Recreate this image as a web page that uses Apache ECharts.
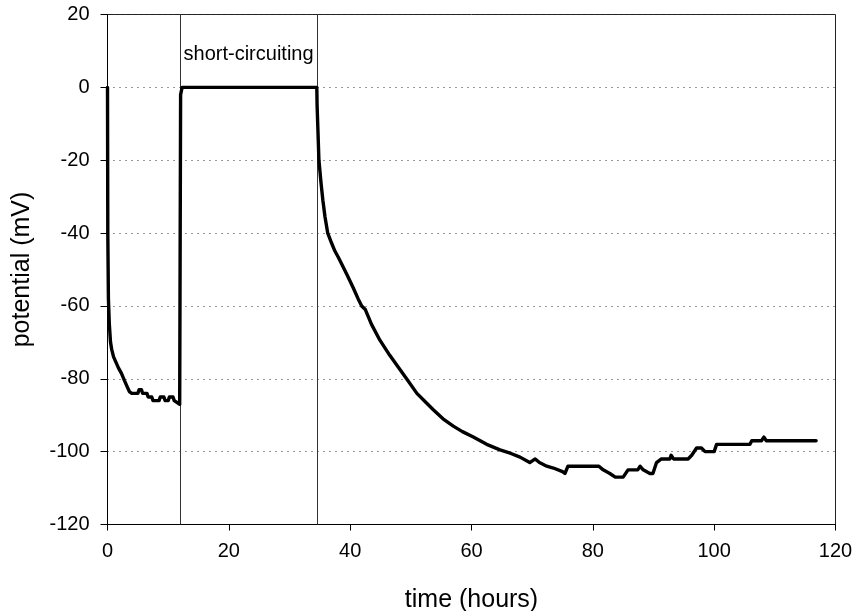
<!DOCTYPE html>
<html>
<head>
<meta charset="utf-8">
<script src="https://cdn.jsdelivr.net/npm/echarts@6/dist/echarts.min.js"></script>
<style>
html,body{margin:0;padding:0;background:#fff;}
#chart{width:855px;height:611px;}
</style>
</head>
<body>
<div id="chart"></div>
<script>
// time (hours)
var timeHours = [
  0, 0.05, 0.15, 0.3, 0.5, 0.7, 1.0, 1.4, 1.8, 2.3, 2.8, 3.2, 3.6, 4.0,
  5.0, 5.2, 5.6, 5.8, 6.5, 6.7, 7.3, 7.5, 8.5, 8.7, 9.3, 9.5, 10.0, 10.2,
  10.8, 11.0, 11.9, 12.0, 12.05, 12.3,
  34.5, 34.55, 34.7, 34.85, 35.2, 35.5, 35.85, 36.3, 36.95, 37.5, 38.0, 38.6,
  39.5, 40.5, 41.3, 41.9, 42.5, 43.5, 44.9, 46.5, 48.0, 49.3, 51.0, 52.5,
  53.7, 55.3, 57.0, 58.5, 60.3, 62.5, 64.7, 66.5, 68.0, 69.6, 70.5, 71.2,
  72.4, 73.5, 75.0, 75.4, 75.9, 81.0, 81.7, 82.8, 83.7, 85.0, 85.8, 87.4,
  87.8, 88.3, 89.4, 89.9, 90.5, 91.3, 92.7, 92.9, 93.3, 95.7, 96.3, 97.1,
  97.9, 98.5, 100.0, 100.4, 105.9, 106.2, 107.8, 108.2, 108.6, 116.8
];
// potential (mV)
var potentialMV = [
  0, -40, -58, -65, -70, -72, -74, -75.5, -77, -78.5, -80.5, -82, -83.5, -84,
  -84, -83, -83, -84, -84, -85, -85, -86, -86, -85, -85, -86, -86, -85,
  -85, -86, -87, -87, -2, 0,
  0, -5, -12.5, -20, -26.3, -31, -35.5, -40, -42.8, -45, -46.5, -48.5,
  -51.5, -55, -58, -60, -61, -65, -69.4, -73.5, -77, -80, -84, -86.5,
  -88.5, -91, -93, -94.5, -96, -98, -99.5, -100.5, -101.5, -103, -102, -103,
  -104, -104.5, -105.5, -106, -104, -104, -105, -106, -107, -107, -105, -105,
  -104, -105, -106, -106, -103, -102, -102, -101, -102, -102, -101, -99,
  -99, -100, -100, -98, -98, -97, -97, -96, -97, -97
];
var xTicks = [0, 20, 40, 60, 80, 100, 120];
var yTicks = [-120, -100, -80, -60, -40, -20, 0, 20];
var shortCircuitStart = 12;
var shortCircuitEnd = 34.5;
var annotationText = 'short-circuiting';

var seriesData = timeHours.map(function (t, i) { return [t, potentialMV[i]]; });

var chart = echarts.init(document.getElementById('chart'), null, {renderer: 'canvas'});
var font = 'Liberation Sans, Arial, sans-serif';
chart.setOption({
  animation: false,
  backgroundColor: '#fff',
  grid: {
    left: 107.5, right: 19.5, top: 14.5, bottom: 86.5,
    containLabel: false, outerBoundsMode: 'none',
    show: true, borderColor: '#222', borderWidth: 1, backgroundColor: 'transparent'
  },
  xAxis: {
    type: 'value',
    min: xTicks[0], max: xTicks[xTicks.length - 1], interval: 20,
    name: 'time (hours)', nameLocation: 'middle', nameGap: 63,
    nameTextStyle: {fontFamily: font, fontSize: 25, color: '#000'},
    axisLine: {onZero: false, lineStyle: {color: '#000', width: 1}},
    axisTick: {show: true, length: 6, lineStyle: {color: '#000'}},
    axisLabel: {fontFamily: font, fontSize: 20, color: '#000', margin: 17},
    splitLine: {show: false}
  },
  yAxis: {
    type: 'value',
    min: yTicks[0], max: yTicks[yTicks.length - 1], interval: 20,
    name: 'potential (mV)', nameLocation: 'middle', nameGap: 73, nameRotate: 90,
    nameTextStyle: {fontFamily: font, fontSize: 25, color: '#000'},
    axisLine: {show: true, onZero: false, lineStyle: {color: '#000', width: 1}},
    axisTick: {show: true, length: 7, lineStyle: {color: '#000'}},
    axisLabel: {fontFamily: font, fontSize: 20, color: '#000', margin: 18},
    splitLine: {show: true, lineStyle: {color: '#333', width: 1, type: [1, 5]}}
  },
  series: [{
    type: 'line',
    data: seriesData,
    showSymbol: false,
    symbol: 'none',
    lineStyle: {color: '#000', width: 3.4, join: 'round', cap: 'round'},
    z: 5,
    markLine: {
      silent: true,
      symbol: ['none', 'none'],
      label: {show: false},
      lineStyle: {color: '#333', width: 1, type: 'solid'},
      data: [{xAxis: shortCircuitStart}, {xAxis: shortCircuitEnd}],
      z: 3
    },
    markArea: {
      silent: true,
      itemStyle: {color: 'transparent'},
      label: {show: true, position: 'inside', color: '#000', fontFamily: font, fontSize: 20},
      data: [[{coord: [shortCircuitStart, 18.2], name: annotationText}, {coord: [shortCircuitEnd, 0]}]]
    }
  }]
});
</script>
</body>
</html>
